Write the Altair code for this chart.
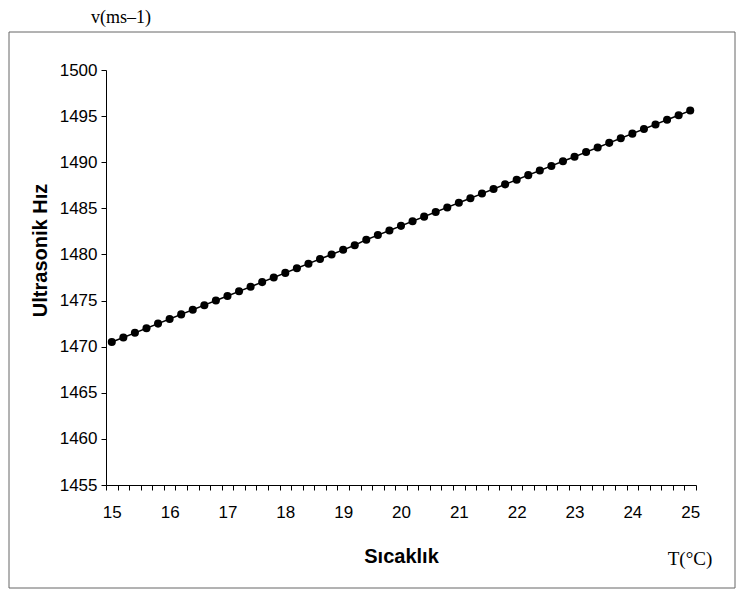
import altair as alt
import pandas as pd

# ---- data ----
temps = [15.0, 15.2, 15.4, 15.6, 15.8, 16.0, 16.2, 16.4, 16.6, 16.8,
         17.0, 17.2, 17.4, 17.6, 17.8, 18.0, 18.2, 18.4, 18.6, 18.8,
         19.0, 19.2, 19.4, 19.6, 19.8, 20.0, 20.2, 20.4, 20.6, 20.8,
         21.0, 21.2, 21.4, 21.6, 21.8, 22.0, 22.2, 22.4, 22.6, 22.8,
         23.0, 23.2, 23.4, 23.6, 23.8, 24.0, 24.2, 24.4, 24.6, 24.8,
         25.0]
speeds = [1470.5, 1471.0, 1471.5, 1472.0, 1472.5, 1473.0, 1473.5, 1474.0, 1474.5, 1475.0,
          1475.5, 1476.0, 1476.5, 1477.0, 1477.5, 1478.0, 1478.5, 1479.0, 1479.5, 1480.0,
          1480.5, 1481.0, 1481.6, 1482.1, 1482.6, 1483.1, 1483.6, 1484.1, 1484.6, 1485.1,
          1485.6, 1486.1, 1486.6, 1487.1, 1487.6, 1488.1, 1488.6, 1489.1, 1489.6, 1490.1,
          1490.6, 1491.1, 1491.6, 1492.1, 1492.6, 1493.1, 1493.6, 1494.1, 1494.6, 1495.1,
          1495.6]
y_ticks = [1455, 1460, 1465, 1470, 1475, 1480, 1485, 1490, 1495, 1500]
x_title = "Sıcaklık"
y_title = "Ultrasonik Hız"
y_unit = "v(ms–1)"
x_unit = "T(°C)"

df = pd.DataFrame({"T": temps, "v": speeds})

W, H = 590, 415
step = 0.2
half = step / 2
x_min = temps[0] - half
x_max = temps[-1] + half
band_px = W * step / (x_max - x_min)
tick_vals = [round(t - half, 2) for t in temps] + [round(temps[-1] + half, 2)]

FONT = "Liberation Sans"
SERIF = "Liberation Serif"

x_enc = alt.X(
    "T:Q",
    scale=alt.Scale(domain=[x_min, x_max], nice=False, zero=False),
    axis=alt.Axis(
        values=tick_vals,
        labelExpr=(f"abs(datum.value - {half} - round(datum.value - {half})) < 0.01"
                   f" ? '' + round(datum.value - {half}) : ''"),
        labelOffset=-band_px / 2,
        labelFlush=False,
        labelOverlap=False,
        labelPadding=14,
        tickSize=5,
        title=x_title,
        titleFontSize=20,
        titleFontWeight="bold",
        titleY=77,
        titleBaseline="alphabetic",
    ),
)
y_enc = alt.Y(
    "v:Q",
    scale=alt.Scale(domain=[y_ticks[0], y_ticks[-1]], nice=False, zero=False),
    axis=alt.Axis(
        values=y_ticks,
        format="d",
        labelPadding=4,
        tickSize=5,
        title=y_title,
        titleFontSize=20,
        titleFontWeight="bold",
        titleAngle=270,
        titleX=-60,
        titleY=180,
        titleAlign="center",
        titleBaseline="alphabetic",
    ),
)

line = alt.Chart(df).mark_line(color="black", strokeWidth=1.5).encode(x=x_enc, y=y_enc)
pts = alt.Chart(df).mark_circle(color="black", size=65, opacity=1).encode(x=x_enc, y=y_enc)

frame = alt.Chart(alt.Data(values=[{"k": 1}])).mark_rect(
    fillOpacity=0, stroke="#666666", strokeWidth=1
).encode(x=alt.value(-97), x2=alt.value(629), y=alt.value(-38), y2=alt.value(518))

t_unit_y = alt.Chart(alt.Data(values=[{"t": y_unit}])).mark_text(
    font=SERIF, fontSize=18, color="black", align="center", baseline="alphabetic"
).encode(text="t:N", x=alt.value(15), y=alt.value(-47))

t_unit_x = alt.Chart(alt.Data(values=[{"t": x_unit}])).mark_text(
    font=SERIF, fontSize=19, color="black", align="center", baseline="alphabetic"
).encode(text="t:N", x=alt.value(584), y=alt.value(495))

chart = alt.layer(frame, line, pts, t_unit_y, t_unit_x).properties(
    width=W,
    height=H,
    autosize=alt.AutoSizeParams(type="none"),
    padding={"left": 98, "top": 62, "right": 41, "bottom": 105},
    background="white",
).configure_view(stroke=None).configure_axis(
    grid=False,
    domainColor="black",
    domainWidth=1,
    tickColor="black",
    tickWidth=1,
    labelFont=FONT,
    labelFontSize=17,
    labelColor="black",
    titleFont=FONT,
    titleColor="black",
)

chart.save("out.html", embed_options={"renderer": "svg", "actions": False})
